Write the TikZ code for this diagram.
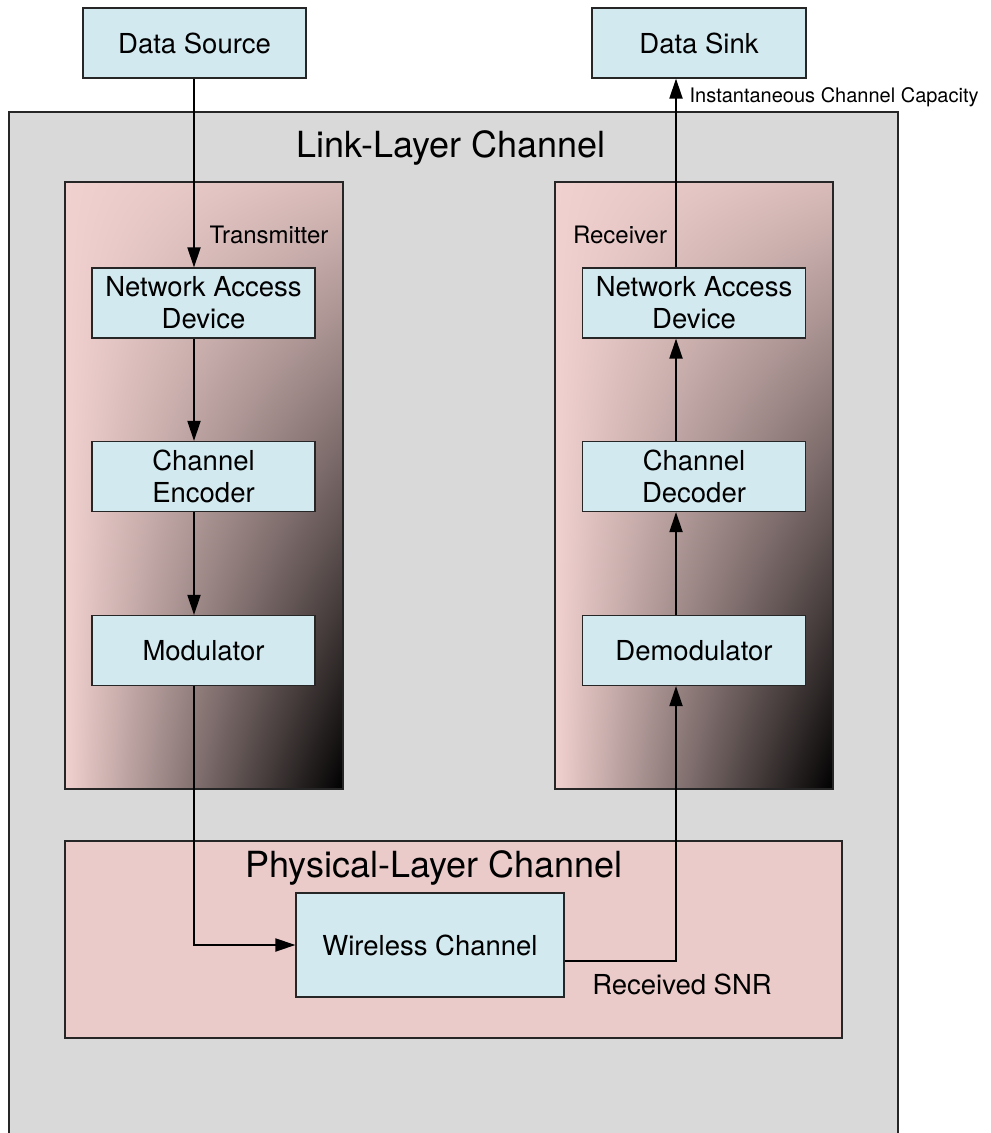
\documentclass[tikz,border=0pt]{standalone}
\usepackage{fontspec}
\setmainfont{TeX Gyre Heros}
\usetikzlibrary{arrows.meta, shadings}

\definecolor{boxblue}{HTML}{D2E9EF}
\definecolor{linkgray}{HTML}{D9D9D9}
\definecolor{phypink}{HTML}{EBCBCA}
\definecolor{txpink}{HTML}{F1D1CF}
\definecolor{txmid}{HTML}{D9BCBA}

\tikzset{
  block/.style={draw=black!85, line width=0.6pt, fill=boxblue, minimum width=111.5pt,
    minimum height=35pt, align=center, font=\fontsize{13.75}{16}\selectfont},
  flow/.style={line width=1pt, -{Triangle[length=10pt,width=6.5pt]}},
  title/.style={font=\fontsize{18}{20}\selectfont},
  tag/.style={font=\fontsize{12}{14}\selectfont},
  unit/.style={upper left=txpink, lower left=txpink, upper right=txmid, lower right=black}
}

\begin{document}
\begin{tikzpicture}[x=0.5pt, y=-0.5pt]
    \useasboundingbox (0,0) rectangle (990,1133);
    \fill[linkgray] (9,112) rectangle (898,1133);
    \draw[black!85, line width=0.8pt] (9,1133) -- (9,112) -- (898,112) -- (898,1133);
    \node[title] (link) at (451,148) {Link-Layer Channel};

    \shade[unit] (65,182) rectangle (343,789);
    \draw[black!85, line width=0.8pt] (65,182) rectangle (343,789);
    \shade[unit] (555,182) rectangle (833,789);
    \draw[black!85, line width=0.8pt] (555,182) rectangle (833,789);
    \node[tag] (tx) at (269,235) {Transmitter};
    \node[tag] (rx) at (620,235) {Receiver};

    \filldraw[fill=phypink, draw=black!85, line width=0.8pt] (65,841) rectangle (842,1038);
    \node[title] (phy) at (434,868) {Physical-Layer Channel};

    \node[block] (src) at (194.5,43) {Data Source};
    \node[block, minimum width=107pt] (sink) at (699,43) {Data Sink};
    \node[block] (tnad) at (203.5,303) {Network Access\\Device};
    \node[block] (tenc) at (203.5,476.5) {Channel\\Encoder};
    \node[block] (tmod) at (203.5,650.5) {Modulator};
    \node[block] (rnad) at (694,303) {Network Access\\Device};
    \node[block] (rdec) at (694,476.5) {Channel\\Decoder};
    \node[block] (rdem) at (694,650.5) {Demodulator};
    \node[block, minimum width=134pt, minimum height=52pt] (wc) at (430,945) {Wireless Channel};

    \coordinate (tl) at (194,945);
    \coordinate (rl) at (676,961);

    \draw[flow] (tl |- src.south) -- (tl |- tnad.north);
    \draw[flow] (tl |- tnad.south) -- (tl |- tenc.north);
    \draw[flow] (tl |- tenc.south) -- (tl |- tmod.north);
    \draw[flow] (tl |- tmod.south) -- (tl) -- (wc.west |- tl);
    \draw[flow] (wc.east |- rl) -- (rl) -- (rl |- rdem.south);
    \draw[flow] (rl |- rdem.north) -- (rl |- rdec.south);
    \draw[flow] (rl |- rdec.north) -- (rl |- rnad.south);
    \draw[flow] (rl |- rnad.north) -- (rl |- sink.south)
        node[pos=0.9, right=3pt, font=\fontsize{10}{12}\selectfont] (cap) {Instantaneous Channel Capacity};
    \node[font=\fontsize{13.75}{16}\selectfont] (snr) at (682,984) {Received SNR};
\end{tikzpicture}
\end{document}
